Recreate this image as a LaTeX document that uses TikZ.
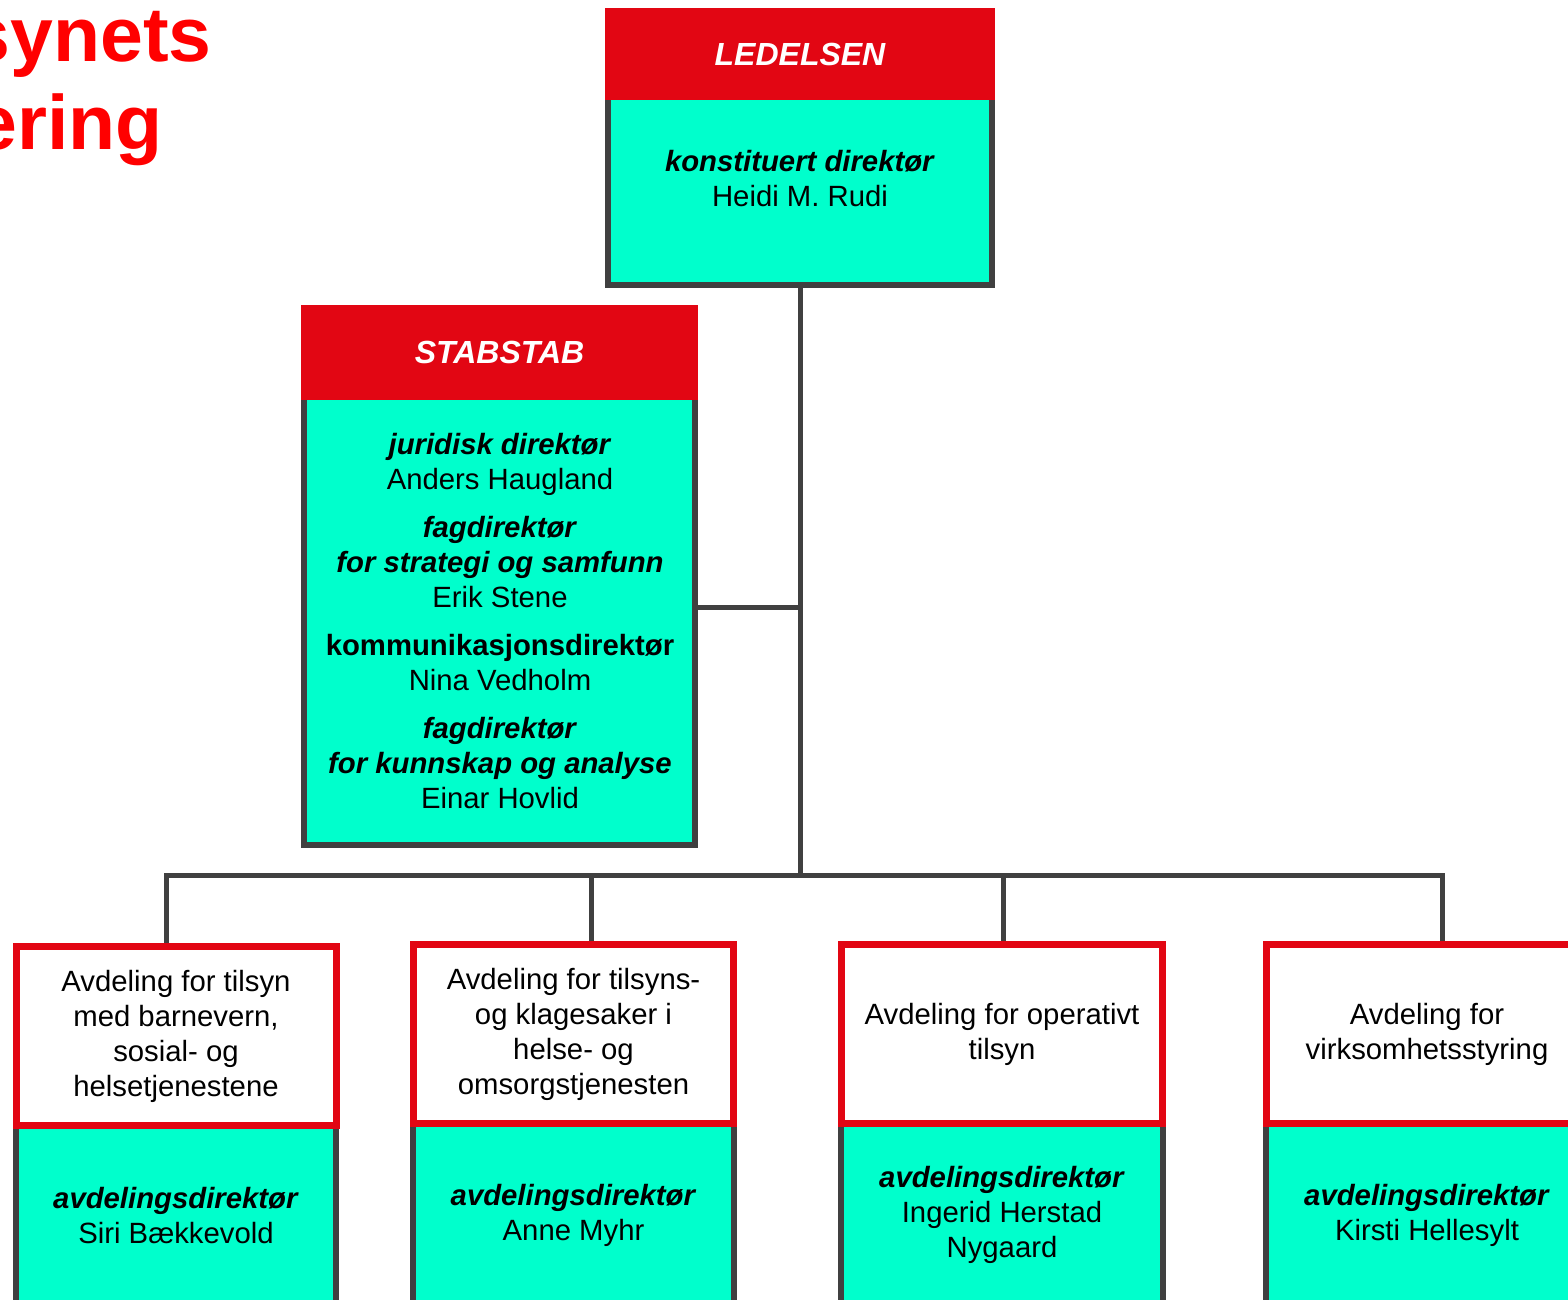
\documentclass[tikz,border=0pt]{standalone}
\usepackage{fontspec}
\setmainfont{Liberation Sans}
\definecolor{bodyteal}{RGB}{0,255,204}
\definecolor{hdrred}{RGB}{226,6,19}
\definecolor{linegray}{RGB}{64,64,64}
\definecolor{titlered}{RGB}{255,0,0}
\begin{document}
\begin{tikzpicture}[x=1pt,y=-1pt,
  body/.style={rectangle, fill=bodyteal, draw=linegray, line width=6pt, inner sep=0pt},
  hdr/.style={rectangle, fill=hdrred, inner sep=0pt, text=white, font=\fontsize{32}{38}\selectfont\bfseries\itshape},
  dept/.style={rectangle, fill=white, draw=hdrred, line width=7pt, inner sep=0pt, minimum width=320pt, minimum height=179pt},
  txt/.style={align=center, inner sep=0pt, font=\fontsize{29.3}{35}\selectfont},
  conn/.style={draw=linegray, line width=5pt},
  ttl/.style={text=titlered, inner sep=0pt, font=\fontsize{77}{90}\selectfont\bfseries}]
\useasboundingbox (0,0) rectangle (1568,1300);
\clip (0,0) rectangle (1568,1300);
\fill[white] (0,0) rectangle (1568,1300);

% title fragments
\node[ttl, anchor=base east] (t1) at (212,62) {synets};
\node[ttl, anchor=base east] (t2) at (163,150) {ering};

% LEDELSEN
\node[body, minimum width=384pt, minimum height=274pt] (led) at (800,148) {};
\node[hdr, minimum width=390pt, minimum height=92pt] (ledh) at (800,54) {LEDELSEN};
\node[txt] (ledt) at (800,179) {\textbf{\textit{konstituert direktør}}\\Heidi M. Rudi};

% STABSTAB
\node[body, minimum width=391pt, minimum height=537pt] (stab) at (499.5,576.5) {};
\node[hdr, minimum width=397pt, minimum height=95pt] (stabh) at (499.5,352.5) {STABSTAB};
\node[txt] (stabt) at (500,621.5) {\textbf{\textit{juridisk direktør}}\\Anders Haugland\\[13pt]
  \textbf{\textit{fagdirektør}}\\\textbf{\textit{for strategi og samfunn}}\\Erik Stene\\[13pt]
  \textbf{kommunikasjonsdirektør}\\Nina Vedholm\\[13pt]
  \textbf{\textit{fagdirektør}}\\\textbf{\textit{for kunnskap og analyse}}\\Einar Hovlid};

% department bodies
\node[body, minimum width=320pt, minimum height=300pt] (b1) at (176,1270) {};
\node[body, minimum width=321pt, minimum height=300pt] (b2) at (573.5,1270) {};
\node[body, minimum width=322pt, minimum height=300pt] (b3) at (1002,1270) {};
\node[body, minimum width=322pt, minimum height=300pt] (b4) at (1427,1270) {};

% department headers
\node[dept] (d1) at (176,1035.5) {};
\node[dept, minimum width=320pt] (d2) at (573.5,1033.5) {};
\node[dept, minimum width=321pt] (d3) at (1002,1033.5) {};
\node[dept, minimum width=321pt] (d4) at (1427,1033.5) {};

\node[txt] (d1t) at (176,1036.5) {Avdeling for tilsyn\\med barnevern,\\sosial- og\\helsetjenestene};
\node[txt] (d2t) at (573.5,1034.5) {Avdeling for tilsyns-\\og klagesaker i\\helse- og\\omsorgstjenesten};
\node[txt] (d3t) at (1002,1034.5) {Avdeling for operativt\\tilsyn};
\node[txt] (d4t) at (1427,1034.5) {Avdeling for\\virksomhetsstyring};

\node[txt] (b1t) at (176,1215.5) {\textbf{\textit{avdelingsdirektør}}\\Siri Bækkevold};
\node[txt] (b2t) at (573.5,1215.5) {\textbf{\textit{avdelingsdirektør}}\\Anne Myhr};
\node[txt] (b3t) at (1002,1215) {\textbf{\textit{avdelingsdirektør}}\\Ingerid Herstad\\Nygaard};
\node[txt] (b4t) at (1427,1215.5) {\textbf{\textit{avdelingsdirektør}}\\Kirsti Hellesylt};

% connectors
\coordinate (j) at (800,875);
\coordinate (sj) at (800,607);
\coordinate (p1) at (166,875);
\coordinate (p2) at (591,875);
\coordinate (p3) at (1003,875);
\coordinate (p4) at (1442,875);
\draw[conn] (led.south) -- (j);
\draw[conn] (sj -| stab.east) -- (sj);
\draw[conn] (p1 |- d1.north) -- (p1) -- (p4) -- (p4 |- d4.north);
\draw[conn] (p2) -- (p2 |- d2.north);
\draw[conn] (p3) -- (p3 |- d3.north);
\end{tikzpicture}
\end{document}
